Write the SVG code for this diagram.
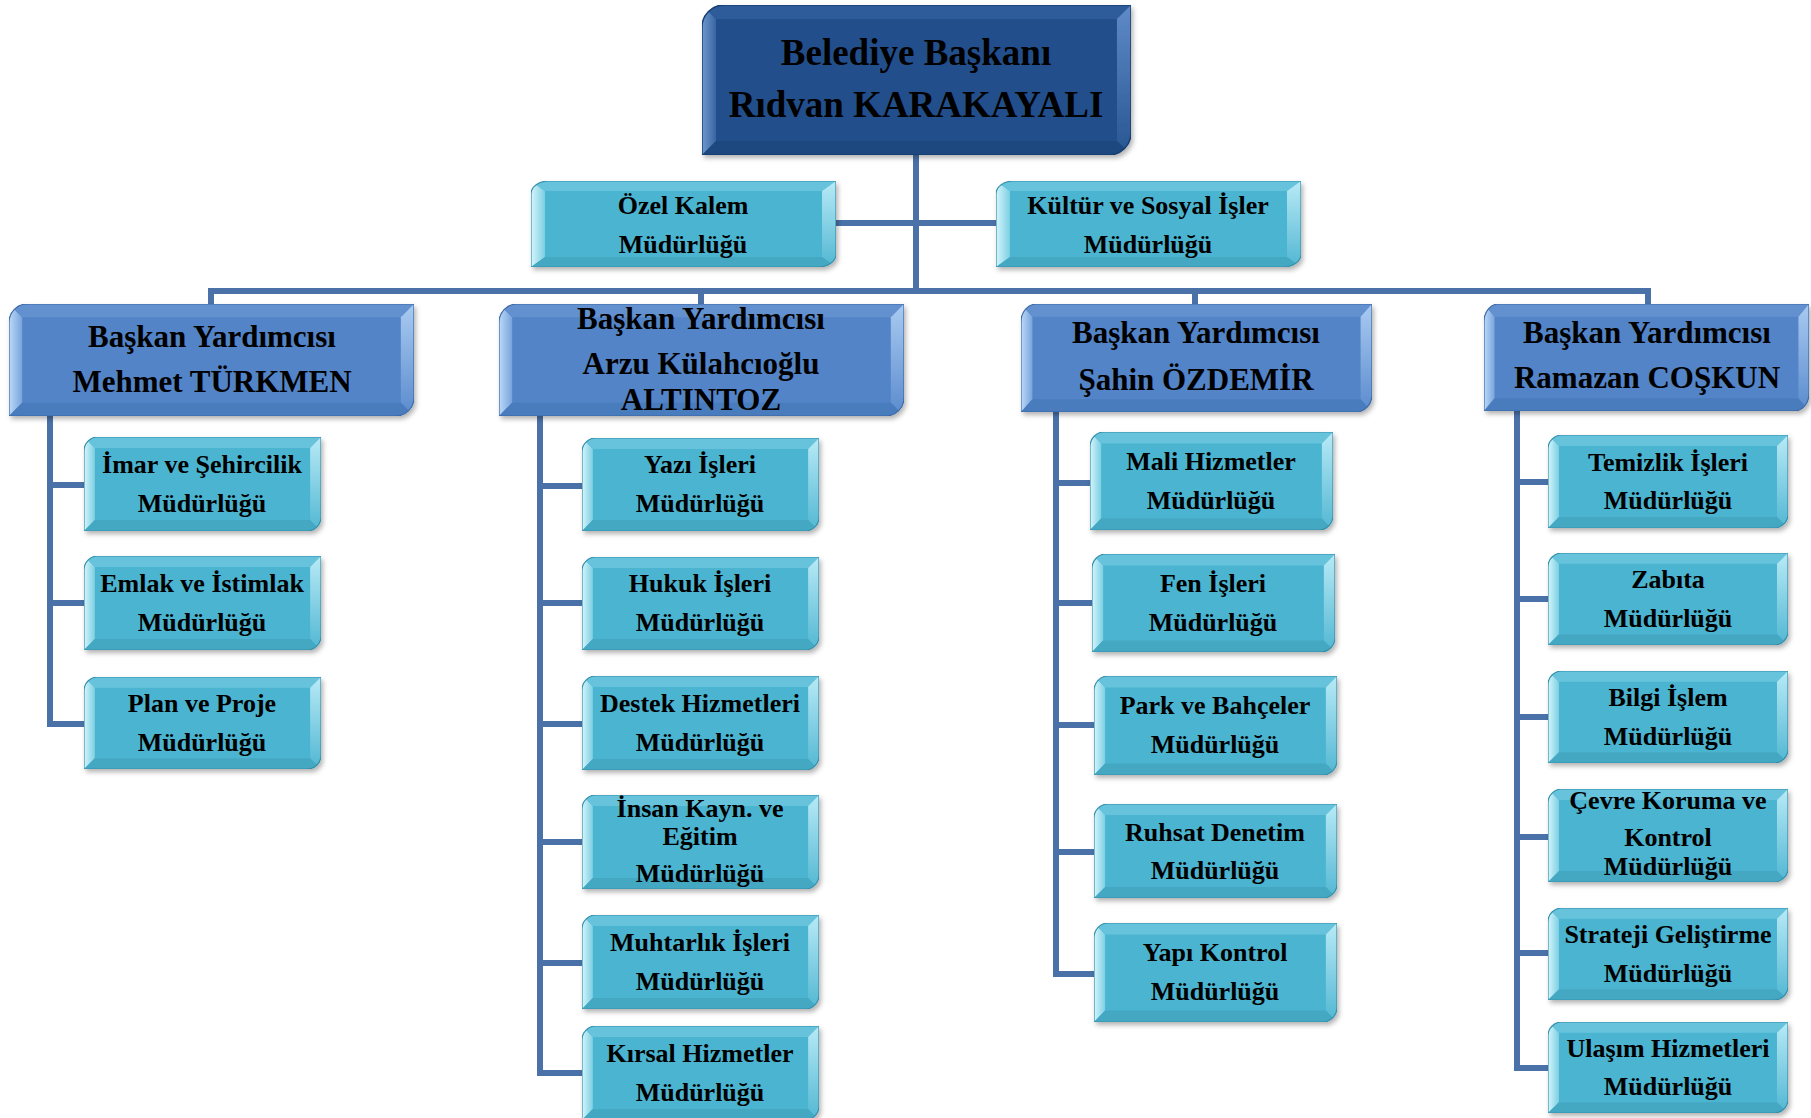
<svg xmlns="http://www.w3.org/2000/svg" xmlns:xlink="http://www.w3.org/1999/xlink" width="1811" height="1118" viewBox="0 0 1811 1118">
<style>
.t{font-family:"Liberation Serif","Times New Roman",serif;font-weight:bold;fill:#000;text-anchor:middle}
.s26{font-size:26px}.s31{font-size:31px}.s37{font-size:37px}
.conn path{fill:none;stroke:#4a72a8;stroke-width:6;stroke-linejoin:miter;stroke-linecap:butt}
.box{filter:url(#sh)}
</style>
<defs>
<filter id="sh" x="-5%" y="-5%" width="115%" height="125%">
<feDropShadow dx="2" dy="3" stdDeviation="2.5" flood-color="#000" flood-opacity="0.3"/>
</filter>
<linearGradient id="gSl" x1="0" y1="0" x2="1" y2="0"><stop offset="0" stop-color="#d6f5fb"/><stop offset="1" stop-color="#7ccfe3"/></linearGradient>
<linearGradient id="gSr" x1="0" y1="0" x2="0" y2="1"><stop offset="0" stop-color="#b8eaf6"/><stop offset="1" stop-color="#56b9d4"/></linearGradient>
<linearGradient id="gVl" x1="0" y1="0" x2="1" y2="0"><stop offset="0" stop-color="#bcd9f8"/><stop offset="1" stop-color="#78a4dc"/></linearGradient>
<linearGradient id="gVr" x1="0" y1="0" x2="0" y2="1"><stop offset="0" stop-color="#a9cbf1"/><stop offset="1" stop-color="#5e8ecf"/></linearGradient>
<linearGradient id="gTl" x1="0" y1="0" x2="1" y2="0"><stop offset="0" stop-color="#6f97cd"/><stop offset="1" stop-color="#3865a3"/></linearGradient>
<linearGradient id="gTr" x1="0" y1="0" x2="0" y2="1"><stop offset="0" stop-color="#5f8bc7"/><stop offset="1" stop-color="#2a5894"/></linearGradient>
<symbol id="sbox" viewBox="0 0 240 94" preserveAspectRatio="none">
<path d="M14,0 H240 V80 A14,14 0 0 1 226,94 H0 V14 A14,14 0 0 1 14,0 Z" fill="#4bb4d0"/>
<path d="M0,94 V14 A14,14 0 0 1 4.1,4.1 L11,11 V83 Z" fill="url(#gSl)"/>
<path d="M4.1,4.1 A14,14 0 0 1 14,0 H240 L229,11 H11 Z" fill="#66c3db"/>
<path d="M240,0 V80 A14,14 0 0 1 235.9,89.9 L229,83 V11 Z" fill="url(#gSr)"/>
<path d="M235.9,89.9 A14,14 0 0 1 226,94 H0 L11,83 H229 Z" fill="#45a8c3"/>
<path d="M14,0 H240 V80 A14,14 0 0 1 226,94 H0 V14 A14,14 0 0 1 14,0 Z" fill="none" stroke="#3590ab" stroke-width="1.2" vector-effect="non-scaling-stroke"/>
</symbol>
<symbol id="vbox" viewBox="0 0 400 110" preserveAspectRatio="none">
<path d="M18,0 H400 V92 A18,18 0 0 1 382,110 H0 V18 A18,18 0 0 1 18,0 Z" fill="#5384c7"/>
<path d="M0,110 V18 A18,18 0 0 1 5.3,5.3 L13,13 V97 Z" fill="url(#gVl)"/>
<path d="M5.3,5.3 A18,18 0 0 1 18,0 H400 L387,13 H13 Z" fill="#6491cf"/>
<path d="M400,0 V92 A18,18 0 0 1 394.7,104.7 L387,97 V13 Z" fill="url(#gVr)"/>
<path d="M394.7,104.7 A18,18 0 0 1 382,110 H0 L13,97 H387 Z" fill="#4a7bbd"/>
<path d="M18,0 H400 V92 A18,18 0 0 1 382,110 H0 V18 A18,18 0 0 1 18,0 Z" fill="none" stroke="#3c69a5" stroke-width="1.2" vector-effect="non-scaling-stroke"/>
</symbol>
<symbol id="tbox" viewBox="0 0 428 150" preserveAspectRatio="none">
<path d="M22,0 H428 V128 A22,22 0 0 1 406,150 H0 V22 A22,22 0 0 1 22,0 Z" fill="#234f8b"/>
<path d="M0,150 V22 A22,22 0 0 1 6.4,6.4 L14,14 V136 Z" fill="url(#gTl)"/>
<path d="M6.4,6.4 A22,22 0 0 1 22,0 H428 L414,14 H14 Z" fill="#2d5c9a"/>
<path d="M428,0 V128 A22,22 0 0 1 421.6,143.6 L414,136 V14 Z" fill="url(#gTr)"/>
<path d="M421.6,143.6 A22,22 0 0 1 406,150 H0 L14,136 H414 Z" fill="#1d467f"/>
<path d="M22,0 H428 V128 A22,22 0 0 1 406,150 H0 V22 A22,22 0 0 1 22,0 Z" fill="none" stroke="#173f72" stroke-width="1.5" vector-effect="non-scaling-stroke"/>
</symbol>
</defs>
<rect width="1811" height="1118" fill="#ffffff"/>

<g id="connectors" class="conn">
<path d="M916,154 V291"/>
<path d="M835,223 H996"/>
<path d="M211,304 V291 H1648 V304"/>
<path d="M701,291 V304"/>
<path d="M1195,291 V304"/>
<path d="M50,416 V724 H84 M50,485 H84 M50,603 H84"/>
<path d="M540,416 V1073 H582 M540,486 H582 M540,603 H582 M540,724 H582 M540,842 H582 M540,963 H582"/>
<path d="M1056,412 V974 H1094 M1056,483 H1090 M1056,603 H1092 M1056,725 H1094 M1056,852 H1094"/>
<path d="M1517,411 V1068 H1548 M1517,482 H1548 M1517,599 H1548 M1517,717 H1548 M1517,837 H1548 M1517,953 H1548"/>
</g>

<g id="baskan"><use class="box" href="#tbox" x="702" y="5" width="429" height="150"/>
<text class="t s37" x="916" y="65">Belediye Başkanı</text><text class="t s37" x="916" y="117">Rıdvan KARAKAYALI</text></g>

<g id="ozel-kalem"><use class="box" href="#sbox" x="531" y="181" width="305" height="86"/>
<text class="t s26" x="683" y="214">Özel Kalem</text><text class="t s26" x="683" y="253">Müdürlüğü</text></g>
<g id="kultur"><use class="box" href="#sbox" x="996" y="181" width="305" height="86"/>
<text class="t s26" x="1148" y="214">Kültür ve Sosyal İşler</text><text class="t s26" x="1148" y="253">Müdürlüğü</text></g>

<g id="vp-mehmet"><use class="box" href="#vbox" x="9" y="304" width="405" height="112"/>
<text class="t s31" x="212" y="347">Başkan Yardımcısı</text><text class="t s31" x="212" y="392">Mehmet TÜRKMEN</text></g>
<g id="vp-arzu"><use class="box" href="#vbox" x="499" y="304" width="405" height="112"/>
<text class="t s31" x="701" y="329">Başkan Yardımcısı</text><text class="t s31" x="701" y="374">Arzu Külahcıoğlu</text><text class="t s31" x="701" y="410">ALTINTOZ</text></g>
<g id="vp-sahin"><use class="box" href="#vbox" x="1021" y="304" width="351" height="108"/>
<text class="t s31" x="1196" y="343">Başkan Yardımcısı</text><text class="t s31" x="1196" y="390">Şahin ÖZDEMİR</text></g>
<g id="vp-ramazan"><use class="box" href="#vbox" x="1484" y="304" width="325" height="107"/>
<text class="t s31" x="1647" y="343">Başkan Yardımcısı</text><text class="t s31" x="1647" y="388">Ramazan COŞKUN</text></g>

<g id="imar"><use class="box" href="#sbox" x="84" y="437" width="237" height="94"/>
<text class="t s26" x="202" y="473">İmar ve Şehircilik</text><text class="t s26" x="202" y="512">Müdürlüğü</text></g>
<g id="emlak"><use class="box" href="#sbox" x="84" y="556" width="237" height="94"/>
<text class="t s26" x="202" y="592">Emlak ve İstimlak</text><text class="t s26" x="202" y="631">Müdürlüğü</text></g>
<g id="plan"><use class="box" href="#sbox" x="84" y="677" width="237" height="92"/>
<text class="t s26" x="202" y="712">Plan ve Proje</text><text class="t s26" x="202" y="751">Müdürlüğü</text></g>

<g id="yazi"><use class="box" href="#sbox" x="582" y="438" width="237" height="93"/>
<text class="t s26" x="700" y="473">Yazı İşleri</text><text class="t s26" x="700" y="512">Müdürlüğü</text></g>
<g id="hukuk"><use class="box" href="#sbox" x="582" y="557" width="237" height="93"/>
<text class="t s26" x="700" y="592">Hukuk İşleri</text><text class="t s26" x="700" y="631">Müdürlüğü</text></g>
<g id="destek"><use class="box" href="#sbox" x="582" y="676" width="237" height="94"/>
<text class="t s26" x="700" y="712">Destek Hizmetleri</text><text class="t s26" x="700" y="751">Müdürlüğü</text></g>
<g id="insan"><use class="box" href="#sbox" x="582" y="795" width="237" height="94"/>
<text class="t s26" x="700" y="817">İnsan Kayn. ve</text><text class="t s26" x="700" y="845">Eğitim</text><text class="t s26" x="700" y="882">Müdürlüğü</text></g>
<g id="muhtarlik"><use class="box" href="#sbox" x="582" y="915" width="237" height="94"/>
<text class="t s26" x="700" y="951">Muhtarlık İşleri</text><text class="t s26" x="700" y="990">Müdürlüğü</text></g>
<g id="kirsal"><use class="box" href="#sbox" x="582" y="1026" width="237" height="94"/>
<text class="t s26" x="700" y="1062">Kırsal Hizmetler</text><text class="t s26" x="700" y="1101">Müdürlüğü</text></g>

<g id="mali"><use class="box" href="#sbox" x="1090" y="432" width="243" height="98"/>
<text class="t s26" x="1211" y="470">Mali Hizmetler</text><text class="t s26" x="1211" y="509">Müdürlüğü</text></g>
<g id="fen"><use class="box" href="#sbox" x="1092" y="554" width="243" height="98"/>
<text class="t s26" x="1213" y="592">Fen İşleri</text><text class="t s26" x="1213" y="631">Müdürlüğü</text></g>
<g id="park"><use class="box" href="#sbox" x="1094" y="676" width="243" height="99"/>
<text class="t s26" x="1215" y="714">Park ve Bahçeler</text><text class="t s26" x="1215" y="753">Müdürlüğü</text></g>
<g id="ruhsat"><use class="box" href="#sbox" x="1094" y="804" width="243" height="94"/>
<text class="t s26" x="1215" y="841">Ruhsat Denetim</text><text class="t s26" x="1215" y="879">Müdürlüğü</text></g>
<g id="yapi"><use class="box" href="#sbox" x="1094" y="923" width="243" height="99"/>
<text class="t s26" x="1215" y="961">Yapı Kontrol</text><text class="t s26" x="1215" y="1000">Müdürlüğü</text></g>

<g id="temizlik"><use class="box" href="#sbox" x="1548" y="435" width="240" height="93"/>
<text class="t s26" x="1668" y="471">Temizlik İşleri</text><text class="t s26" x="1668" y="509">Müdürlüğü</text></g>
<g id="zabita"><use class="box" href="#sbox" x="1548" y="553" width="240" height="92"/>
<text class="t s26" x="1668" y="588">Zabıta</text><text class="t s26" x="1668" y="627">Müdürlüğü</text></g>
<g id="bilgi"><use class="box" href="#sbox" x="1548" y="671" width="240" height="92"/>
<text class="t s26" x="1668" y="706">Bilgi İşlem</text><text class="t s26" x="1668" y="745">Müdürlüğü</text></g>
<g id="cevre"><use class="box" href="#sbox" x="1548" y="789" width="240" height="93"/>
<text class="t s26" x="1668" y="809">Çevre Koruma ve</text><text class="t s26" x="1668" y="846">Kontrol</text><text class="t s26" x="1668" y="875">Müdürlüğü</text></g>
<g id="strateji"><use class="box" href="#sbox" x="1548" y="908" width="240" height="92"/>
<text class="t s26" x="1668" y="943">Strateji Geliştirme</text><text class="t s26" x="1668" y="982">Müdürlüğü</text></g>
<g id="ulasim"><use class="box" href="#sbox" x="1548" y="1022" width="240" height="91"/>
<text class="t s26" x="1668" y="1057">Ulaşım Hizmetleri</text><text class="t s26" x="1668" y="1095">Müdürlüğü</text></g>
</svg>
